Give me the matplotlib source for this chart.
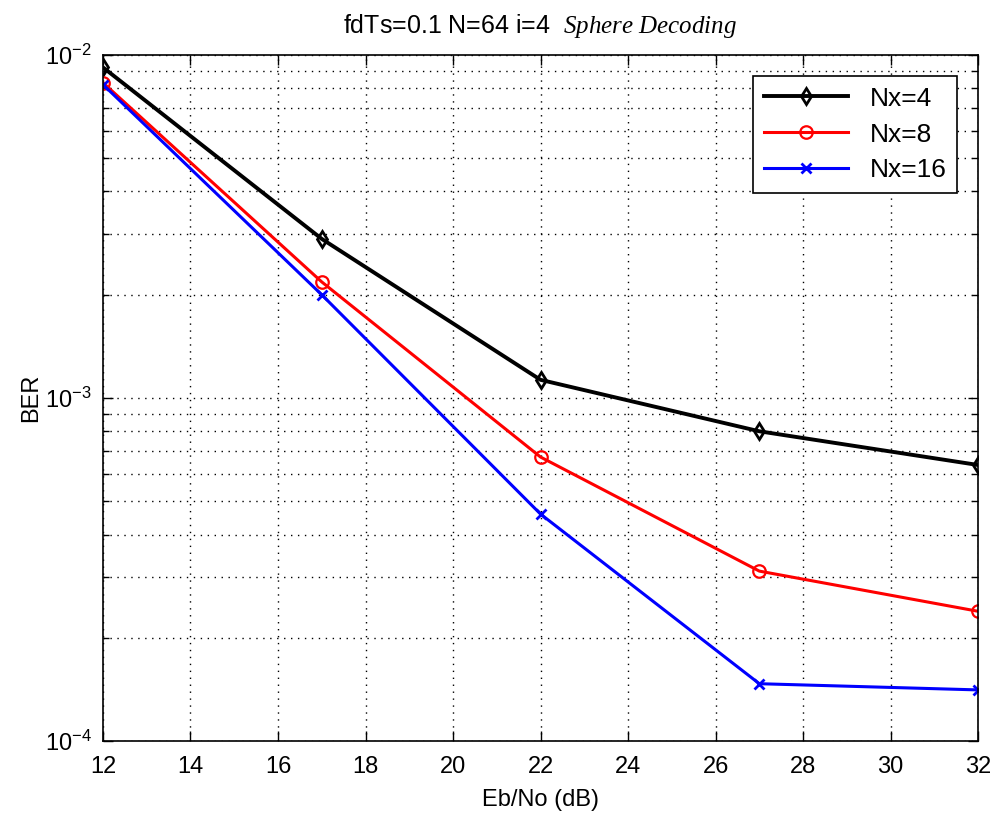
import numpy as np
import matplotlib
matplotlib.use("Agg")
import matplotlib.pyplot as plt
from matplotlib.ticker import LogLocator, NullFormatter, MultipleLocator

plt.rcParams["font.family"] = ["Liberation Sans", "DejaVu Sans"]
plt.rcParams["mathtext.fontset"] = "custom"
plt.rcParams["mathtext.rm"] = "Liberation Sans"
plt.rcParams["mathtext.it"] = "Liberation Serif:italic"

ebno = [12, 17, 22, 27, 32]
ber_nx4 = [9.2e-3, 2.91e-3, 1.13e-3, 8.0e-4, 6.38e-4]
ber_nx8 = [8.3e-3, 2.18e-3, 6.73e-4, 3.13e-4, 2.39e-4]
ber_nx16 = [8.2e-3, 2.0e-3, 4.59e-4, 1.47e-4, 1.41e-4]

fig = plt.figure(figsize=(9.93, 8.18), dpi=100)
ax = fig.add_axes([0.1037, 0.094, 0.8813, 0.8388])

ax.semilogy(ebno, ber_nx4, "k-d", lw=2.8, ms=8, mfc="none", mew=2, label="Nx=4")
ax.semilogy(ebno, ber_nx8, "r-o", lw=2.2, ms=9, mfc="none", mew=1.6, label="Nx=8")
ax.semilogy(ebno, ber_nx16, "b-x", lw=2.2, ms=7, mew=2, label="Nx=16")

ax.set_xlim(12, 32)
ax.set_ylim(1e-4, 1e-2)
ax.xaxis.set_major_locator(MultipleLocator(2))
ax.yaxis.set_major_locator(LogLocator(base=10))
ax.yaxis.set_minor_locator(LogLocator(base=10, subs=np.arange(2, 10)))
ax.yaxis.set_minor_formatter(NullFormatter())

ax.tick_params(which="both", direction="in", top=True, right=True, labelsize=17)
ax.tick_params(which="major", length=7, width=1)
ax.tick_params(which="minor", length=4, width=1)
ax.tick_params(axis="x", pad=11)
ax.tick_params(axis="y", pad=8)
ax.grid(True, which="major", axis="x", ls=(0, (1, 4)), color="k", lw=1)
ax.grid(True, which="both", axis="y", ls=(0, (1, 4)), color="k", lw=1)
for sp in ax.spines.values():
    sp.set_linewidth(1.2)

ax.set_xlabel("Eb/No (dB)", fontsize=17, labelpad=8)
ax.set_ylabel("BER", fontsize=17, labelpad=2)
ax.set_title("fdTs=0.1 N=64 i=4  $\\mathit{Sphere\\ Decoding}$", fontsize=18, pad=16)

leg = ax.legend(loc="upper right", fontsize=19, fancybox=False, edgecolor="k",
                framealpha=1, handlelength=3.2, labelspacing=0.45, borderaxespad=0.8)
leg.get_frame().set_linewidth(1.2)

fig.savefig("out.png", dpi=100)
